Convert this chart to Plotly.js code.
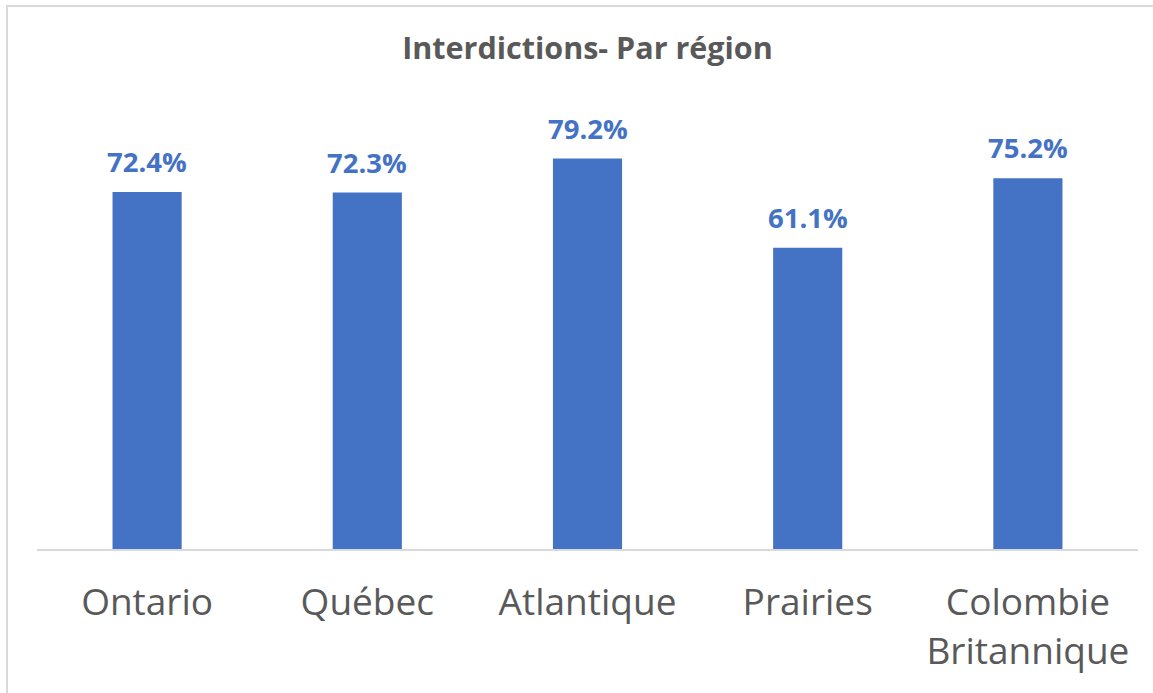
<!DOCTYPE html>
<html>
<head>
<meta charset="utf-8">
<script src="https://cdn.plot.ly/plotly-3.0.1.min.js"></script>
<style>
  html, body { margin: 0; padding: 0; background: #ffffff; }
  #wrap { position: relative; width: 1153px; height: 693px; overflow: hidden; }
  #chart { width: 1153px; height: 693px; }
  #frame { position: absolute; left: 6px; top: 5px; width: 1200px; height: 800px;
           border-left: 2px solid #d9d9d9; border-top: 2px solid #d9d9d9; pointer-events: none; }
</style>
</head>
<body>
<div id="wrap">
  <div id="chart"></div>
  <div id="frame"></div>
</div>
<script>
const regions = ["Ontario", "Québec", "Atlantique", "Prairies", "Colombie<br>Britannique"];
const values = [72.4, 72.3, 79.2, 61.1, 75.2];
const valueLabels = ["72.4%", "72.3%", "79.2%", "61.1%", "75.2%"];
const chartTitle = "Interdictions- Par région";

const blue = "#4472C4";
const grey = "#595959";

const trace = {
  type: "bar",
  x: regions,
  y: values,
  marker: { color: blue },
  hoverinfo: "skip"
};

const annotations = regions.map((r, i) => ({
  x: r, y: values[i], xref: "x", yref: "y",
  text: "<b>" + valueLabels[i] + "</b>", showarrow: false,
  yanchor: "bottom", yshift: 10,
  font: { family: "Open Sans, sans-serif", size: 27.5, color: blue }
}));

const layout = {
  width: 1153, height: 693,
  margin: { l: 37, r: 15, t: 56, b: 144, pad: 0 },
  paper_bgcolor: "#ffffff", plot_bgcolor: "#ffffff",
  showlegend: false,
  bargap: 0.686,
  title: {
    text: "<b>" + chartTitle + "</b>",
    x: 0.5, xref: "paper", y: 1 - 48 / 693, yref: "container",
    xanchor: "center", yanchor: "middle",
    font: { family: "Open Sans, sans-serif", size: 30.5, color: grey }
  },
  xaxis: {
    type: "category",
    showline: true, linecolor: "#d9d9d9", linewidth: 2,
    showgrid: false, zeroline: false, ticks: "",
    tickfont: { family: "Open Sans, sans-serif", size: 37, color: grey },
    ticklabelstandoff: 20
  },
  yaxis: {
    range: [0, 100], showgrid: false, zeroline: false,
    showticklabels: false, showline: false, ticks: "", fixedrange: true
  },
  annotations: annotations
};

Plotly.newPlot("chart", [trace], layout, { displayModeBar: false, staticPlot: true });
</script>
</body>
</html>
